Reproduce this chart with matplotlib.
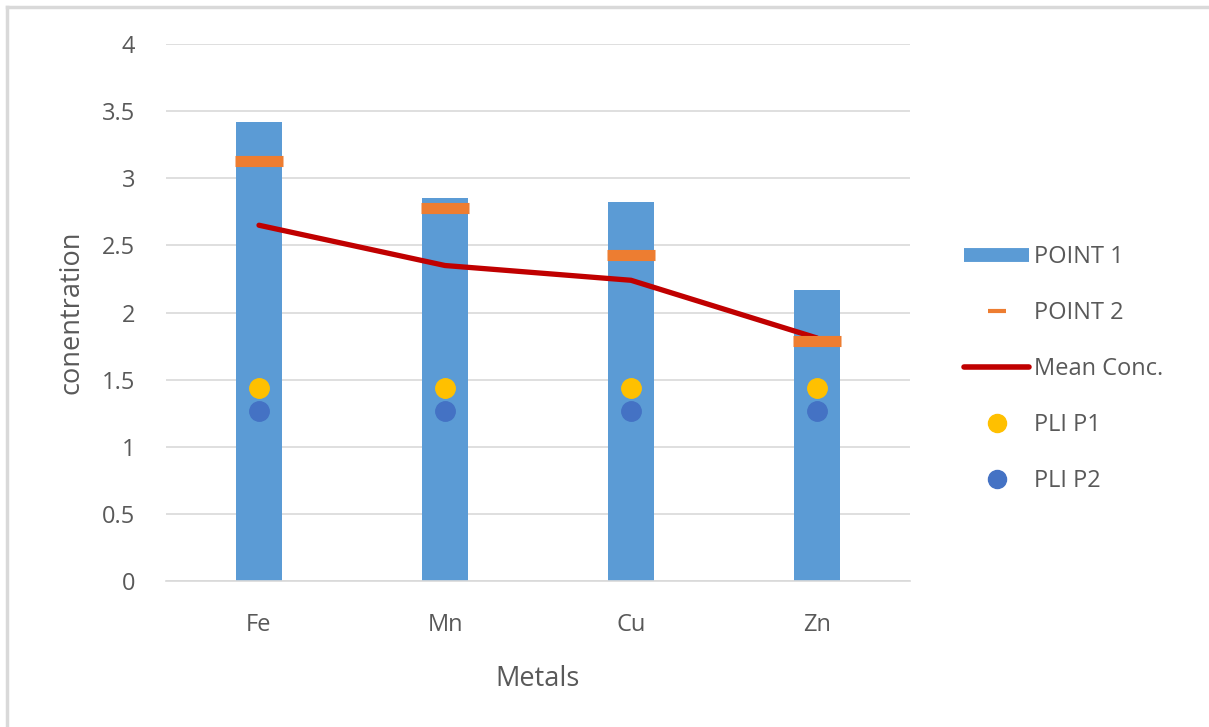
import matplotlib
matplotlib.use("Agg")
import matplotlib.pyplot as plt
from matplotlib.lines import Line2D
import numpy as np

metals = ["Fe", "Mn", "Cu", "Zn"]
point1 = [3.42, 2.85, 2.82, 2.17]
point2 = [3.13, 2.78, 2.43, 1.79]
mean_conc = [2.65, 2.35, 2.24, 1.81]
pli_p1 = [1.44, 1.44, 1.44, 1.44]
pli_p2 = [1.27, 1.27, 1.27, 1.27]
y_ticks = [0, 0.5, 1, 1.5, 2, 2.5, 3, 3.5, 4]
y_tick_labels = ["0", "0.5", "1", "1.5", "2", "2.5", "3", "3.5", "4"]

C_BAR = "#5B9BD5"
C_P2 = "#ED7D31"
C_MEAN = "#C00000"
C_PLI1 = "#FFC000"
C_PLI2 = "#4472C4"
C_TEXT = "#595959"
C_GRID = "#D9D9D9"

plt.rcParams["font.family"] = ["Open Sans", "DejaVu Sans"]

fig = plt.figure(figsize=(12.09, 7.27), dpi=100)
ax = fig.add_axes([166 / 1209, 1 - 581 / 727, 744 / 1209, 537 / 727])

x = np.arange(len(metals))
ax.bar(x, point1, width=0.25, color=C_BAR, zorder=2)
ax.plot(x, mean_conc, color=C_MEAN, lw=3.8, solid_capstyle="round",
        solid_joinstyle="round", zorder=3)
ax.plot(x, point2, ls="none", marker="_", ms=34, mew=8, color=C_P2, zorder=4)
ax.plot(x, pli_p1, ls="none", marker="o", ms=14, color=C_PLI1, zorder=5)
ax.plot(x, pli_p2, ls="none", marker="o", ms=14, color=C_PLI2, zorder=5)

ax.set_xlim(-0.5, len(metals) - 0.5)
ax.set_ylim(0, 4)
ax.set_yticks(y_ticks)
ax.set_yticklabels(y_tick_labels)
ax.set_xticks(x)
ax.set_xticklabels(metals)
ax.tick_params(axis="both", length=0, labelsize=17, colors=C_TEXT)
ax.tick_params(axis="y", pad=22)
ax.tick_params(axis="x", pad=23)
ax.grid(axis="y", color=C_GRID, lw=1.2, zorder=0)
ax.set_axisbelow(True)
for s in ["top", "right", "left"]:
    ax.spines[s].set_visible(False)
ax.spines["bottom"].set_color(C_GRID)
ax.spines["bottom"].set_linewidth(1.2)

ax.set_ylabel("conentration", fontsize=19.5, color=C_TEXT, labelpad=12)
ax.set_xlabel("Metals", fontsize=19.5, color=C_TEXT, labelpad=20)

handles = [
    Line2D([], [], color=C_BAR, lw=10, solid_capstyle="butt"),
    Line2D([], [], ls="none", marker="_", ms=13, mew=3, color=C_P2),
    Line2D([], [], color=C_MEAN, lw=4, solid_capstyle="round"),
    Line2D([], [], ls="none", marker="o", ms=13, color=C_PLI1),
    Line2D([], [], ls="none", marker="o", ms=13, color=C_PLI2),
]
labels = ["POINT 1", "POINT 2", "Mean Conc.", "PLI P1", "PLI P2"]
leg = fig.legend(handles, labels, loc="upper left",
                 bbox_to_anchor=(955 / 1209, 1 - 236 / 727),
                 frameon=False, fontsize=17, handlelength=2.75,
                 handletextpad=0.2, labelspacing=1.35, borderaxespad=0)
for t in leg.get_texts():
    t.set_color(C_TEXT)

# light frame along the top and left edges
fig.add_artist(Line2D([7 / 1209, 7 / 1209], [0, 1 - 7 / 727],
                      transform=fig.transFigure, color=C_GRID, lw=2.5))
fig.add_artist(Line2D([7 / 1209, 1], [1 - 7 / 727, 1 - 7 / 727],
                      transform=fig.transFigure, color=C_GRID, lw=2.5))

fig.savefig("out.png", dpi=100)
